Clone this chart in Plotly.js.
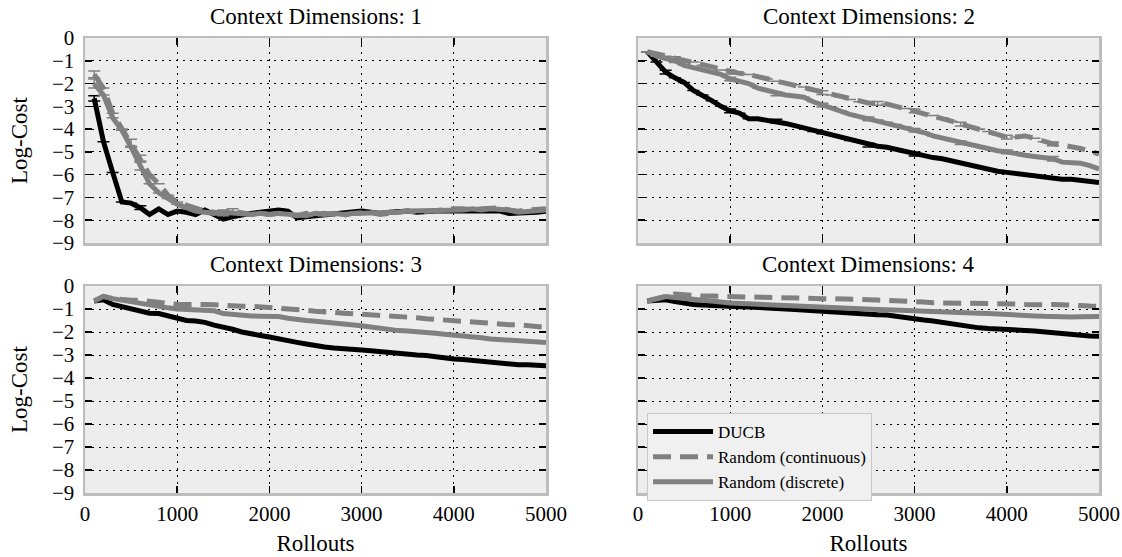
<!DOCTYPE html>
<html>
<head>
<meta charset="utf-8">
<script src="https://cdn.plot.ly/plotly-3.0.1.min.js"></script>
<style>html,body{margin:0;padding:0;background:#fff;}#chart{width:1122px;height:557px;}</style>
</head>
<body>
<div id="chart"></div>
<script>
// Rollouts (x values)
const rollouts = [100,200,300,400,500,600,700,800,900,1000,1100,1200,1300,1400,1500,1600,1700,1800,1900,2000,2100,2200,2300,2400,2500,2600,2700,2800,2900,3000,3100,3200,3300,3400,3500,3600,3700,3800,3900,4000,4100,4200,4300,4400,4500,4600,4700,4800,4900,5000];

const panelTitles = ["Context Dimensions: 1","Context Dimensions: 2","Context Dimensions: 3","Context Dimensions: 4"];
const seriesNames = ["DUCB","Random (continuous)","Random (discrete)"];
const xTickVals = [0,1000,2000,3000,4000,5000];
const yTickVals = [0,-1,-2,-3,-4,-5,-6,-7,-8,-9];

// Context dimensions 1
const d1_ducb = [-2.65,-4.55,-5.9,-7.2,-7.25,-7.45,-7.75,-7.5,-7.75,-7.6,-7.65,-7.75,-7.55,-7.75,-7.95,-7.85,-7.75,-7.7,-7.65,-7.6,-7.55,-7.6,-7.9,-7.85,-7.8,-7.75,-7.7,-7.7,-7.65,-7.6,-7.65,-7.7,-7.65,-7.6,-7.6,-7.65,-7.6,-7.6,-7.6,-7.6,-7.65,-7.6,-7.65,-7.6,-7.6,-7.7,-7.7,-7.7,-7.65,-7.6];
const d1_cont = [-1.6,-2.2,-3.3,-4.0,-4.6,-5.3,-6.0,-6.4,-6.9,-7.2,-7.35,-7.5,-7.6,-7.65,-7.7,-7.6,-7.7,-7.75,-7.7,-7.75,-7.7,-7.75,-7.8,-7.7,-7.75,-7.7,-7.75,-7.8,-7.7,-7.7,-7.65,-7.75,-7.7,-7.65,-7.6,-7.65,-7.6,-7.6,-7.55,-7.5,-7.5,-7.55,-7.5,-7.5,-7.45,-7.55,-7.6,-7.55,-7.5,-7.5];
const d1_disc = [-2.0,-2.5,-3.5,-4.05,-4.8,-5.6,-6.4,-6.8,-7.05,-7.3,-7.45,-7.6,-7.65,-7.7,-7.65,-7.7,-7.7,-7.75,-7.7,-7.75,-7.7,-7.75,-7.75,-7.8,-7.7,-7.75,-7.7,-7.75,-7.7,-7.7,-7.7,-7.65,-7.7,-7.65,-7.6,-7.6,-7.6,-7.55,-7.55,-7.55,-7.55,-7.5,-7.55,-7.5,-7.5,-7.55,-7.65,-7.6,-7.55,-7.55];
// error bars (only where visible in the picture; null = none)
const d1_ducb_err = [0.12,null,null,null,null,0.08];
const d1_cont_err = [0.15,null,null,null,0.15,0.15,null,null,null,null,null,null,null,null,0.1,0.1];
const d1_disc_err = [0.2,null,null,null,null,0.2,null,null,null,null,null,null,null,null,0.1];
const d2_ducb_err = [null,null,0.08,null,null,null,null,null,null,0.08,null,null,null,null,0.08,null,null,null,null,null,null,null,null,null,0.08,null,null,null,null,0.08];
const d2_cont_err = [null,null,null,0.08,null,null,null,null,null,0.08,null,null,null,null,null,null,null,null,null,0.08,null,null,null,null,null,0.08,null,null,null,0.08,null,null,null,null,0.08,null,null,null,null,0.08,null,null,null,null,0.08];
const d2_disc_err = [null,null,null,0.08,null,null,null,null,null,0.08,null,null,null,null,0.08,null,null,null,null,0.08,null,null,null,null,0.08,null,null,null,null,0.08,null,null,null,null,0.08,null,null,null,null,0.08,null,null,null,null,0.1];

// Context dimensions 2
const d2_ducb = [-0.6,-1.05,-1.5,-1.75,-1.95,-2.3,-2.5,-2.75,-3.0,-3.2,-3.3,-3.55,-3.55,-3.6,-3.65,-3.75,-3.85,-3.95,-4.1,-4.2,-4.25,-4.35,-4.5,-4.55,-4.7,-4.75,-4.8,-4.9,-5.0,-5.1,-5.2,-5.25,-5.3,-5.4,-5.5,-5.6,-5.65,-5.75,-5.85,-5.9,-5.95,-6.0,-6.1,-6.15,-6.2,-6.2,-6.2,-6.25,-6.3,-6.35];
const d2_cont = [-0.6,-0.7,-0.8,-0.9,-0.98,-1.05,-1.2,-1.3,-1.4,-1.5,-1.55,-1.6,-1.7,-1.8,-1.9,-2.0,-2.05,-2.15,-2.3,-2.4,-2.5,-2.6,-2.7,-2.8,-2.85,-2.87,-2.9,-3.0,-3.1,-3.2,-3.3,-3.4,-3.5,-3.65,-3.78,-3.9,-4.0,-4.1,-4.25,-4.35,-4.35,-4.3,-4.4,-4.55,-4.65,-4.7,-4.75,-4.85,-4.95,-5.1];
const d2_disc = [-0.6,-0.8,-0.9,-1.0,-1.2,-1.3,-1.4,-1.47,-1.6,-1.8,-1.9,-2.0,-2.2,-2.3,-2.45,-2.5,-2.55,-2.6,-2.8,-2.95,-3.05,-3.2,-3.35,-3.45,-3.55,-3.6,-3.7,-3.8,-3.9,-4.05,-4.15,-4.3,-4.4,-4.5,-4.6,-4.7,-4.75,-4.85,-4.95,-5.0,-5.1,-5.15,-5.2,-5.25,-5.3,-5.45,-5.45,-5.5,-5.6,-5.75];

// Context dimensions 3
const d3_ducb = [-0.65,-0.6,-0.8,-0.9,-1.0,-1.12,-1.18,-1.2,-1.3,-1.45,-1.5,-1.52,-1.58,-1.7,-1.78,-1.88,-2.0,-2.1,-2.15,-2.22,-2.28,-2.35,-2.45,-2.52,-2.6,-2.65,-2.7,-2.71,-2.73,-2.78,-2.82,-2.86,-2.92,-2.97,-2.98,-3.0,-3.02,-3.08,-3.12,-3.17,-3.2,-3.24,-3.28,-3.33,-3.38,-3.42,-3.42,-3.42,-3.45,-3.47];
const d3_cont = [-0.65,-0.45,-0.55,-0.6,-0.62,-0.62,-0.65,-0.68,-0.75,-0.8,-0.8,-0.75,-0.8,-0.82,-0.85,-0.85,-0.88,-0.88,-0.9,-0.92,-0.95,-0.98,-1.0,-1.05,-1.1,-1.15,-1.15,-1.18,-1.2,-1.22,-1.25,-1.26,-1.3,-1.33,-1.36,-1.38,-1.42,-1.45,-1.5,-1.52,-1.55,-1.6,-1.6,-1.63,-1.65,-1.68,-1.68,-1.72,-1.75,-1.8];
const d3_disc = [-0.65,-0.45,-0.55,-0.62,-0.7,-0.78,-0.83,-0.9,-0.95,-1.0,-1.02,-1.05,-1.06,-1.08,-1.2,-1.25,-1.27,-1.3,-1.31,-1.32,-1.33,-1.4,-1.47,-1.5,-1.53,-1.56,-1.59,-1.63,-1.68,-1.73,-1.78,-1.85,-1.9,-1.94,-1.96,-1.98,-2.0,-2.05,-2.1,-2.13,-2.15,-2.2,-2.25,-2.3,-2.33,-2.34,-2.35,-2.38,-2.42,-2.46];

// Context dimensions 4
const d4_ducb = [-0.65,-0.63,-0.6,-0.68,-0.75,-0.8,-0.83,-0.86,-0.88,-0.9,-0.9,-0.91,-0.92,-0.93,-0.96,-1.0,-1.02,-1.05,-1.08,-1.12,-1.15,-1.18,-1.2,-1.22,-1.24,-1.25,-1.26,-1.32,-1.4,-1.44,-1.48,-1.52,-1.58,-1.65,-1.73,-1.78,-1.82,-1.85,-1.86,-1.87,-1.9,-1.93,-1.96,-2.0,-2.05,-2.09,-2.12,-2.16,-2.17,-2.18];
const d4_cont = [-0.65,-0.55,-0.4,-0.35,-0.38,-0.42,-0.43,-0.44,-0.45,-0.46,-0.48,-0.5,-0.52,-0.54,-0.54,-0.54,-0.54,-0.54,-0.54,-0.55,-0.55,-0.55,-0.56,-0.58,-0.6,-0.61,-0.62,-0.63,-0.64,-0.66,-0.7,-0.73,-0.73,-0.73,-0.73,-0.73,-0.74,-0.74,-0.75,-0.75,-0.78,-0.8,-0.83,-0.82,-0.8,-0.8,-0.82,-0.85,-0.87,-0.88];
const d4_disc = [-0.65,-0.55,-0.46,-0.5,-0.55,-0.6,-0.62,-0.66,-0.7,-0.74,-0.76,-0.78,-0.8,-0.83,-0.85,-0.87,-0.89,-0.9,-0.91,-0.92,-0.93,-0.95,-0.97,-0.99,-1.01,-1.02,-1.03,-1.04,-1.05,-1.06,-1.08,-1.09,-1.11,-1.13,-1.15,-1.16,-1.18,-1.2,-1.23,-1.26,-1.27,-1.28,-1.3,-1.32,-1.34,-1.35,-1.35,-1.34,-1.33,-1.33];

const BLACK = '#000000', GRAY = '#808080';
const FONT = '"Liberation Serif", "Times New Roman", serif';

const panels = [
  {ducb:d1_ducb, cont:d1_cont, disc:d1_disc, errs:[d1_ducb_err,d1_cont_err,d1_disc_err]},
  {ducb:d2_ducb, cont:d2_cont, disc:d2_disc, errs:[d2_ducb_err,d2_cont_err,d2_disc_err]},
  {ducb:d3_ducb, cont:d3_cont, disc:d3_disc, errs:null},
  {ducb:d4_ducb, cont:d4_cont, disc:d4_disc, errs:null}
];

const traces = [];
panels.forEach((p, i) => {
  const xa = i === 0 ? 'x' : 'x' + (i+1);
  const ya = i === 0 ? 'y' : 'y' + (i+1);
  const styles = [
    {color:BLACK, dash:'solid', data:p.ducb},
    {color:GRAY, dash:'18px,9px', data:p.cont},
    {color:GRAY, dash:'solid', data:p.disc}
  ];
  styles.forEach((s, k) => {
    const t = {
      type:'scatter', mode:'lines', x:rollouts, y:s.data, xaxis:xa, yaxis:ya,
      name:seriesNames[k], legendgroup:seriesNames[k], showlegend:i===3,
      line:{color:s.color, width:5, dash:s.dash}
    };
    if (p.errs) {
      t.error_y = {type:'data', array:p.errs[k], color:s.color, thickness:1.5, width:6};
    }
    traces.push(t);
  });
});

const xd = [[85/1122, 546/1122],[638/1122, 1099/1122]];
const yd = [[(557-243)/557,(557-38)/557],[(557-493)/557,(557-286)/557]];

function xaxis(col, row, showLabels, anchor) {
  return {
    domain: xd[col], anchor: anchor, range:[0,5000], tickvals:xTickVals,
    showticklabels: showLabels, ticks:'inside', ticklen:7, tickwidth:1.5, tickcolor:'#000',
    mirror:'ticks', showline:true, linecolor:'#bdbdbd', linewidth:2.5,
    showgrid:true, gridcolor:'#000', gridwidth:1, griddash:'2px,5px', zeroline:false,
    tickfont:{family:FONT, size:21, color:'#000'}, ticklabelstandoff:0,
    title: showLabels ? {text:'Rollouts', font:{family:FONT, size:23, color:'#000'}, standoff:10} : {text:''},
    automargin:false, fixedrange:true
  };
}
function yaxis(col, row, showLabels, anchor) {
  return {
    domain: yd[row], anchor: anchor, range:[-9,0], tickvals:yTickVals,
    showticklabels: showLabels, ticks:'inside', ticklen:7, tickwidth:1.5, tickcolor:'#000',
    mirror:'ticks', showline:true, linecolor:'#bdbdbd', linewidth:2.5,
    showgrid:true, gridcolor:'#000', gridwidth:1, griddash:'2px,5px', zeroline:false,
    tickfont:{family:FONT, size:21, color:'#000'}, ticklabelstandoff:4,
    title: showLabels ? {text:'Log-Cost', font:{family:FONT, size:23, color:'#000'}, standoff:18} : {text:''},
    automargin:false, fixedrange:true
  };
}

const annotations = panelTitles.map((t, i) => {
  const col = i % 2, row = Math.floor(i / 2);
  return {
    text:t, xref:'paper', yref:'paper', x:(xd[col][0]+xd[col][1])/2, y:yd[row][1],
    xanchor:'center', yanchor:'bottom', yshift:7, showarrow:false,
    font:{family:FONT, size:23, color:'#000'}
  };
});

const layout = {
  width:1122, height:557, margin:{l:0,r:0,t:0,b:0},
  paper_bgcolor:'#ffffff', plot_bgcolor:'#ededed',
  showlegend:true,
  legend:{x:647/1122, y:(557-413)/557, xanchor:'left', yanchor:'top',
    bgcolor:'#f0f0f0', bordercolor:'#c8c8c8', borderwidth:1,
    font:{family:FONT, size:17, color:'#000'}, tracegroupgap:0, itemwidth:60},
  xaxis: xaxis(0,0,false,'y'),
  yaxis: yaxis(0,0,true,'x'),
  xaxis2: xaxis(1,0,false,'y2'),
  yaxis2: yaxis(1,0,false,'x2'),
  xaxis3: xaxis(0,1,true,'y3'),
  yaxis3: yaxis(0,1,true,'x3'),
  xaxis4: xaxis(1,1,true,'y4'),
  yaxis4: yaxis(1,1,false,'x4'),
  annotations: annotations
};

Plotly.newPlot('chart', traces, layout, {staticPlot:true, displayModeBar:false});
</script>
</body>
</html>
